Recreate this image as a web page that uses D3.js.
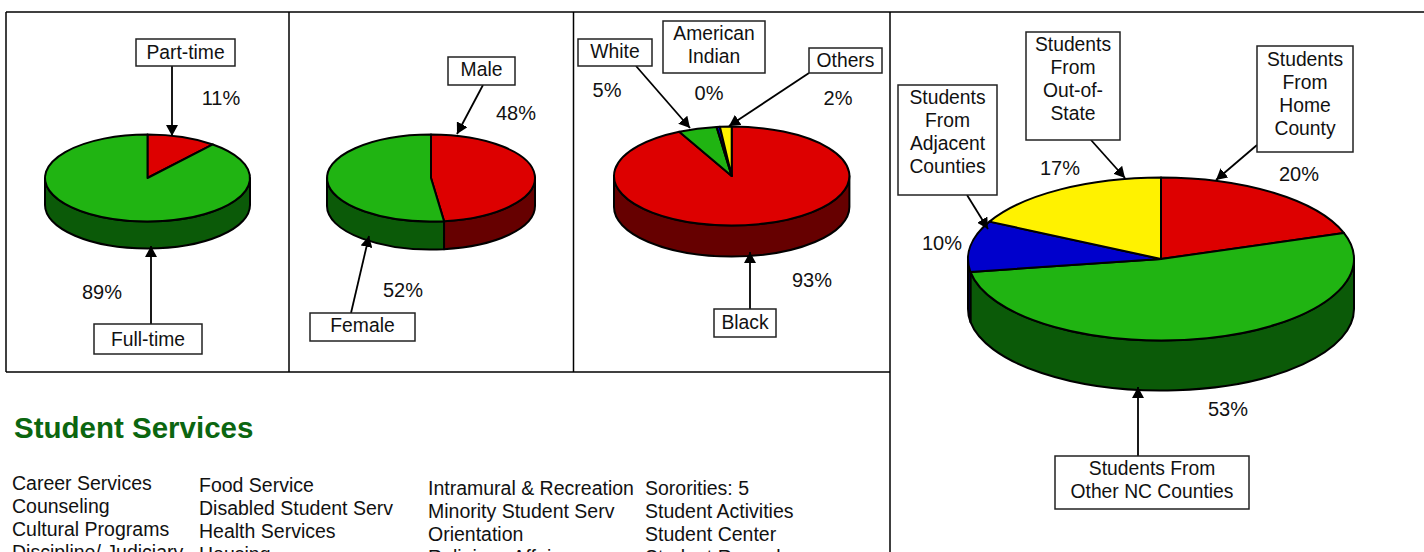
<!DOCTYPE html>
<html>
<head>
<meta charset="utf-8">
<script src="https://cdn.jsdelivr.net/npm/d3@7"></script>
<style>
html, body { margin: 0; padding: 0; background: #fff; overflow: hidden; }
text { font-family: "Liberation Sans", Arial, sans-serif; fill: #111; }
</style>
</head>
<body>
<script>
// values, clockwise from 12 o'clock
var attendanceNames = ["Part-time", "Full-time"];
var attendanceValues = [11, 89];
var attendanceColors = ["red", "green"];

var genderNames = ["Male", "Female"];
var genderValues = [48, 52];
var genderColors = ["red", "green"];

var raceNames = ["Black", "White", "American Indian", "Others"];
var raceValues = [92.6, 5.3, 0.45, 1.6];
var raceColors = ["red", "green", "blue", "yellow"];

var originNames = ["Students From Home County", "Students From Other NC Counties", "Students From Adjacent Counties", "Students From Out-of-State"];
var originValues = [19.8, 52.6, 10.1, 17.4];
var originColors = ["red", "green", "blue", "yellow"];

var servicesCol1 = ["Career Services", "Counseling", "Cultural Programs", "Discipline/ Judiciary"];
var servicesCol2 = ["Food Service", "Disabled Student Serv", "Health Services", "Housing"];
var servicesCol3 = ["Intramural & Recreation", "Minority Student Serv", "Orientation", "Religious Affairs"];
var servicesCol4 = ["Sororities: 5", "Student Activities", "Student Center", "Student Records"];

var topColor = { red: "#dd0000", green: "#20b412", blue: "#0000cc", yellow: "#fff200" };
var sideColor = { red: "#660000", green: "#0b5a08", blue: "#000066", yellow: "#807900" };

var labelSize = 19.3, percentSize = 20, listSize = 19.5;

var svg = d3.select("body").append("svg")
	.attr("width", 1424)
	.attr("height", 552)
	.style("display", "block");

svg.append("defs").append("marker")
	.attr("id", "head")
	.attr("markerUnits", "userSpaceOnUse")
	.attr("viewBox", "0 0 11 12")
	.attr("markerWidth", 11)
	.attr("markerHeight", 12)
	.attr("refX", 11)
	.attr("refY", 6)
	.attr("orient", "auto")
	.append("path")
	.attr("d", "M0,0L11,6L0,12Z")
	.attr("fill", "#000");

// frame lines
var frame = [
	[6, 12, 1424, 12],
	[6, 372, 890, 372],
	[6, 12, 6, 372],
	[289, 12, 289, 372],
	[573.5, 12, 573.5, 372],
	[890, 12, 890, 552]
];
svg.selectAll(".frame")
	.data(frame)
	.enter().append("line")
	.attr("class", "frame")
	.attr("x1", function(d) { return d[0]; })
	.attr("y1", function(d) { return d[1]; })
	.attr("x2", function(d) { return d[2]; })
	.attr("y2", function(d) { return d[3]; })
	.attr("stroke", "#000")
	.attr("stroke-width", 1.5);

var pie = d3.pie().sort(null);
var arc = d3.arc().innerRadius(0).outerRadius(100);

function drawPie(values, colors, geo) {
	var slices = pie(values);
	var g = svg.append("g");

	function px(a) { return geo.cx + geo.rx * Math.sin(a); }
	function py(a) { return geo.cy - geo.ry * Math.cos(a); }

	// wall of the disc, only the front half shows
	slices.forEach(function(s) {
		var a0 = Math.max(s.startAngle, Math.PI / 2);
		var a1 = Math.min(s.endAngle, Math.PI * 3 / 2);
		if (a1 <= a0) return;
		var d = "M" + px(a0) + "," + py(a0) +
			"A" + geo.rx + "," + geo.ry + " 0 0 1 " + px(a1) + "," + py(a1) +
			"L" + px(a1) + "," + (py(a1) + geo.depth) +
			"A" + geo.rx + "," + geo.ry + " 0 0 0 " + px(a0) + "," + (py(a0) + geo.depth) + "Z";
		g.append("path")
			.attr("d", d)
			.attr("fill", sideColor[colors[s.index]])
			.attr("stroke", "#000")
			.attr("stroke-width", 2)
			.attr("stroke-linejoin", "round");
	});

	// top face is a flat pie squashed into an ellipse
	g.append("g")
		.attr("transform", "translate(" + geo.cx + "," + geo.cy + ") scale(" + geo.rx / 100 + "," + geo.ry / 100 + ")")
		.selectAll("path")
		.data(slices)
		.enter().append("path")
		.attr("d", arc)
		.attr("fill", function(d) { return topColor[colors[d.index]]; })
		.attr("stroke", "#000")
		.attr("stroke-width", 2)
		.attr("stroke-linejoin", "round")
		.attr("vector-effect", "non-scaling-stroke");
}

function drawPercents(values, spots) {
	svg.append("g").selectAll("text")
		.data(values)
		.enter().append("text")
		.attr("x", function(d, i) { return spots[i][0]; })
		.attr("y", function(d, i) { return spots[i][1]; })
		.attr("text-anchor", "middle")
		.style("font-size", percentSize + "px")
		.text(function(d) { return Math.round(d) + "%"; });
}

// box: x, y, w, h, first text baseline, lines of text; arrow: from, to (optional)
function drawCallout(c) {
	if (c.arrow) {
		svg.append("line")
			.attr("x1", c.arrow[0])
			.attr("y1", c.arrow[1])
			.attr("x2", c.arrow[2])
			.attr("y2", c.arrow[3])
			.attr("stroke", "#000")
			.attr("stroke-width", 1.8)
			.attr("marker-end", "url(#head)");
	}
	svg.append("rect")
		.attr("x", c.x)
		.attr("y", c.y)
		.attr("width", c.w)
		.attr("height", c.h)
		.attr("fill", "#fff")
		.attr("stroke", "#222")
		.attr("stroke-width", 1.5);
	c.lines.forEach(function(t, i) {
		svg.append("text")
			.attr("x", c.x + c.w / 2)
			.attr("y", c.base + i * 23)
			.attr("text-anchor", "middle")
			.style("font-size", labelSize + "px")
			.text(t);
	});
}

drawPie(attendanceValues, attendanceColors, { cx: 147.5, cy: 178, rx: 102.5, ry: 43.5, depth: 27 });
drawPie(genderValues, genderColors, { cx: 431, cy: 178, rx: 104, ry: 43.5, depth: 28 });
drawPie(raceValues, raceColors, { cx: 731.7, cy: 176, rx: 117.7, ry: 49.5, depth: 31 });
drawPie(originValues, originColors, { cx: 1161, cy: 259, rx: 193, ry: 81.5, depth: 50 });

drawPercents(attendanceValues, [[221, 105], [102, 299]]);
drawPercents(genderValues, [[516, 120], [403, 297]]);
drawPercents(raceValues, [[812, 287], [607, 97], [709, 100], [838, 105]]);
drawPercents(originValues, [[1299, 181], [1228, 416], [942, 250], [1060, 175]]);

var callouts = [
	{ x: 136, y: 39, w: 99, h: 27, base: 59, lines: [attendanceNames[0]], arrow: [172, 66, 172, 136] },
	{ x: 94, y: 324, w: 108, h: 30, base: 346, lines: [attendanceNames[1]], arrow: [151, 324, 151, 246] },
	{ x: 448, y: 57, w: 67, h: 28, base: 76, lines: [genderNames[0]], arrow: [483, 85, 457, 134] },
	{ x: 310, y: 313, w: 105, h: 28, base: 332, lines: [genderNames[1]], arrow: [351, 313, 369, 236] },
	{ x: 714, y: 309, w: 62, h: 28, base: 329, lines: [raceNames[0]], arrow: [750, 309, 750, 252] },
	{ x: 578, y: 39, w: 74, h: 27, base: 58, lines: [raceNames[1]], arrow: [636, 66, 690, 128] },
	{ x: 663, y: 21, w: 102, h: 52, base: 40, lines: ["American", "Indian"] },
	{ x: 809, y: 48, w: 73, h: 25, base: 67, lines: [raceNames[3]], arrow: [809, 73, 729, 126] },
	{ x: 1257, y: 46, w: 96, h: 106, base: 66, lines: ["Students", "From", "Home", "County"], arrow: [1257, 145, 1216, 180] },
	{ x: 1055, y: 456, w: 194, h: 53, base: 475, lines: ["Students From", "Other NC Counties"], arrow: [1138, 456, 1138, 387] },
	{ x: 898, y: 85, w: 99, h: 110, base: 104, lines: ["Students", "From", "Adjacent", "Counties"], arrow: [967, 195, 988, 229] },
	{ x: 1026, y: 32, w: 94, h: 108, base: 51, lines: ["Students", "From", "Out-of-", "State"], arrow: [1091, 140, 1125, 178] }
];
callouts.forEach(drawCallout);

// heading and the list under the charts
svg.append("text")
	.attr("x", 14)
	.attr("y", 438)
	.style("font-size", "29.5px")
	.style("font-weight", "bold")
	.style("fill", "#0b6610")
	.text("Student Services");

function drawColumn(items, x, y0) {
	svg.append("g").selectAll("text")
		.data(items)
		.enter().append("text")
		.attr("x", x)
		.attr("y", function(d, i) { return y0 + i * 23; })
		.style("font-size", listSize + "px")
		.text(function(d) { return d; });
}
drawColumn(servicesCol1, 12, 490);
drawColumn(servicesCol2, 199, 492);
drawColumn(servicesCol3, 428, 495);
drawColumn(servicesCol4, 645, 495);
</script>
</body>
</html>
